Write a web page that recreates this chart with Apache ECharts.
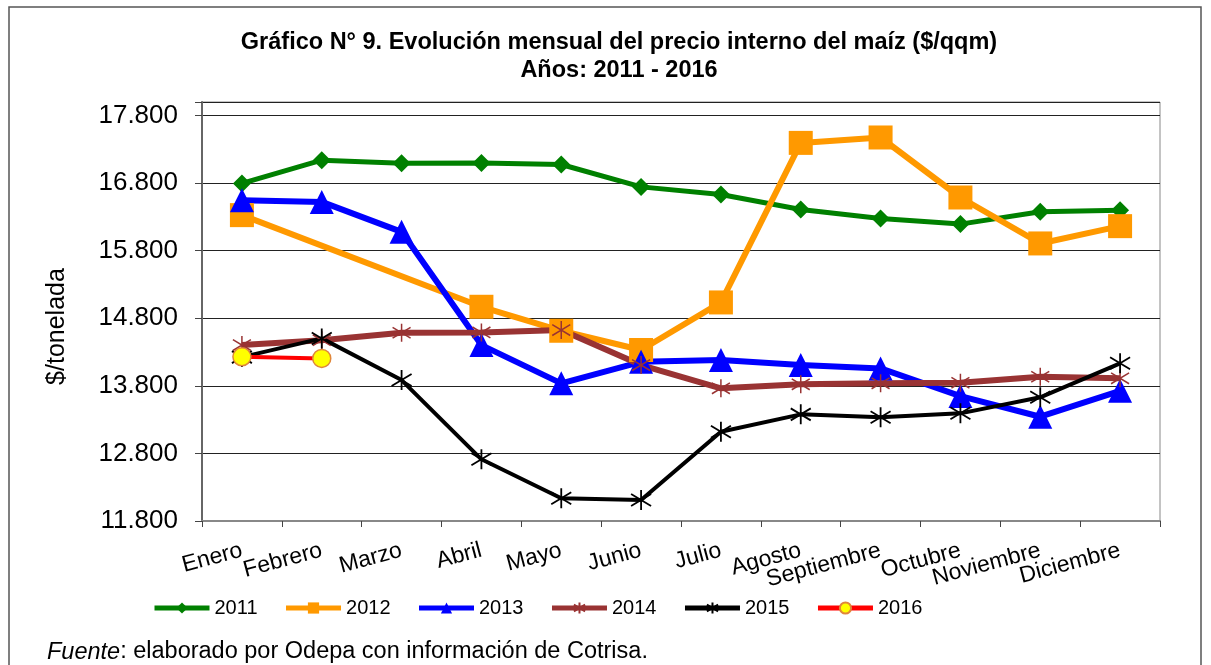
<!DOCTYPE html>
<html>
<head>
<meta charset="utf-8">
<script src="https://cdn.jsdelivr.net/npm/echarts@6/dist/echarts.min.js"></script>
<style>
  html, body { margin: 0; padding: 0; background: #fff; }
  #chart { width: 1211px; height: 665px; }
</style>
</head>
<body>
<div id="chart"></div>
<script>
var months = ['Enero', 'Febrero', 'Marzo', 'Abril', 'Mayo', 'Junio', 'Julio',
  'Agosto', 'Septiembre', 'Octubre', 'Noviembre', 'Diciembre'];

var y2011 = [16795, 17139, 17095, 17099, 17075, 16744, 16632, 16410, 16277, 16193, 16375, 16400];
var y2012 = [16326, null, null, 14970, 14615, 14330, 15034, 17395, 17475, 16587, 15907, 16163];
var y2013 = [16547, 16522, 16079, 14403, 13837, 14156, 14181, 14107, 14058, 13649, 13343, 13727];
var y2014 = [14403, 14476, 14585, 14591, 14625, 14107, 13763, 13822, 13837, 13846, 13934, 13911];
var y2015 = [14225, 14502, 13885, 12713, 12136, 12111, 13121, 13378, 13334, 13393, 13630, 14133];
var y2016 = [14230, 14206];

var star = 'path://M0,-10L0,10M-9,-6L9,6M-9,6L9,-6';

var myChart = echarts.init(document.getElementById('chart'));

function fmt(v) {
  if (v === 18000) return '';
  return String(v).replace(/(\d)(\d{3})$/, '$1.$2');
}

var option = {
  backgroundColor: '#fff',
  animation: false,
  textStyle: { fontFamily: 'Liberation Sans, Arial, sans-serif' },
  title: {
    text: 'Gráfico N° 9. Evolución mensual del precio interno del maíz ($/qqm)\nAños: 2011 - 2016',
    left: 614,
    textAlign: 'center',
    top: 24,
    textStyle: { fontSize: 23.5, fontWeight: 'bold', color: '#000', lineHeight: 28 }
  },
  legend: {
    left: 147,
    top: 593,
    itemWidth: 55,
    itemHeight: 14,
    itemGap: 26,
    textStyle: { fontSize: 20, color: '#000' },
    lineStyle: { width: 5 },
    data: ['2011', '2012', '2013', '2014', '2015', '2016']
  },
  grid: { left: 202, right: 51, top: 102, bottom: 144, show: true, borderColor: '#888', borderWidth: 1 },
  xAxis: {
    type: 'category',
    data: months,
    boundaryGap: true,
    axisLine: { lineStyle: { color: '#888', width: 2 } },
    axisTick: { show: true, length: 6, lineStyle: { color: '#444' } },
    axisLabel: { rotate: 15, fontSize: 23, color: '#000', margin: 29, interval: 0 },
    splitLine: { show: false }
  },
  yAxis: {
    type: 'value',
    min: 11800,
    max: 18000,
    interval: 1000,
    name: '$/tonelada',
    nameLocation: 'middle',
    nameGap: 132,
    nameTextStyle: { fontSize: 25, color: '#000', padding: [0, 30, 0, 0] },
    axisLine: { show: true, lineStyle: { color: '#666', width: 2 } },
    axisTick: { show: true, length: 7, lineStyle: { color: '#444' } },
    axisLabel: { fontSize: 26, color: '#000', margin: 24, formatter: fmt },
    splitLine: { lineStyle: { color: '#222', width: 1 } }
  },
  graphic: [
    {
      type: 'rect',
      shape: { x: 9, y: 7, width: 1192, height: 700 },
      style: { fill: 'none', stroke: '#555', lineWidth: 1.5 },
      silent: true
    },
    {
      type: 'text',
      left: 47,
      top: 640,
      style: {
        text: '{i|Fuente}: elaborado por Odepa con información de Cotrisa.',
        font: '23.5px Liberation Sans, Arial, sans-serif',
        fill: '#000',
        rich: { i: { fontStyle: 'italic', fontSize: 23.5, fontFamily: 'Liberation Sans' } }
      }
    }
  ],
  series: [
    {
      name: '2011', type: 'line', data: y2011,
      symbol: 'diamond', symbolSize: 18,
      itemStyle: { color: '#008000' },
      lineStyle: { width: 5, color: '#008000' }
    },
    {
      name: '2012', type: 'line', data: y2012, connectNulls: true,
      symbol: 'rect', symbolSize: 24,
      itemStyle: { color: '#ff9900' },
      lineStyle: { width: 6, color: '#ff9900' }
    },
    {
      name: '2013', type: 'line', data: y2013,
      symbol: 'triangle', symbolSize: 24,
      itemStyle: { color: '#0000ff' },
      lineStyle: { width: 6, color: '#0000ff' }
    },
    {
      name: '2014', type: 'line', data: y2014,
      symbol: star, symbolSize: 18,
      itemStyle: { color: '#993333', borderColor: '#993333', borderWidth: 1.5 },
      lineStyle: { width: 6, color: '#993333' }
    },
    {
      name: '2015', type: 'line', data: y2015,
      symbol: star, symbolSize: 20,
      itemStyle: { color: '#000', borderColor: '#000', borderWidth: 1.8 },
      lineStyle: { width: 4, color: '#000' }
    },
    {
      name: '2016', type: 'line', data: y2016,
      symbol: 'circle', symbolSize: 18,
      itemStyle: { color: '#ffff00', borderColor: '#e0863a', borderWidth: 1.5 },
      lineStyle: { width: 4, color: '#ff0000' }
    }
  ]
};

myChart.setOption(option);
</script>
</body>
</html>
